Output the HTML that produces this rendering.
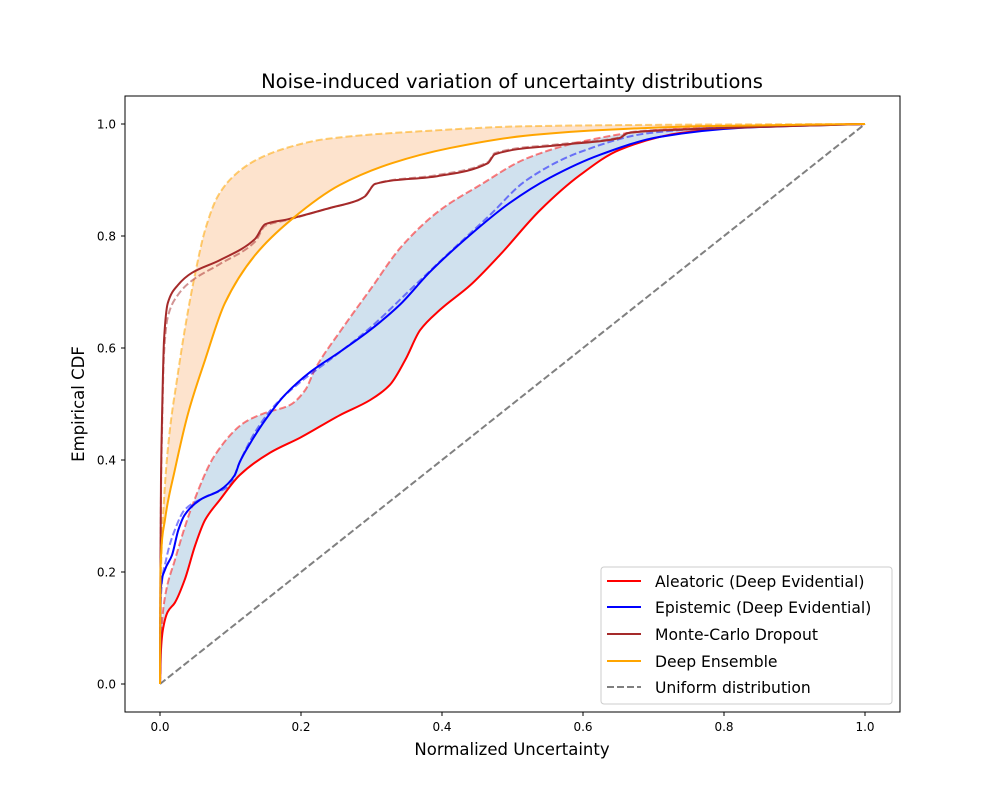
<!DOCTYPE html>
<html><head><meta charset="utf-8"><style>
body{margin:0;background:#fff}
svg text{font-family:"DejaVu Sans","Liberation Sans",sans-serif}
</style></head><body>
<svg id="chart" width="1000" height="800" viewBox="0 0 1000 800" xmlns="http://www.w3.org/2000/svg">
<rect width="1000" height="800" fill="#fff"/>
<text x="512" y="88" font-size="19.5" text-anchor="middle">Noise-induced variation of uncertainty distributions</text>
<g id="fills"></g><g id="lines"></g><g id="axes"></g>
<rect x="125" y="96" width="775" height="616" fill="none" stroke="#000" stroke-width="1"/>
<text x="512" y="755" font-size="16.5" text-anchor="middle">Normalized Uncertainty</text>
<text x="0" y="0" font-size="16.5" text-anchor="middle" transform="translate(84,404) rotate(-90)">Empirical CDF</text>
<g>
<rect x="601" y="567" width="291" height="137" rx="3" fill="#fff" fill-opacity="0.8" stroke="#ccc"/>
<line x1="607" y1="581" x2="641" y2="581" stroke="red" stroke-width="2"/>
<text x="655" y="587" font-size="15.6">Aleatoric (Deep Evidential)</text>
<line x1="607" y1="607" x2="641" y2="607" stroke="blue" stroke-width="2"/>
<text x="655" y="613" font-size="15.6">Epistemic (Deep Evidential)</text>
<line x1="607" y1="634" x2="641" y2="634" stroke="#a52a2a" stroke-width="2"/>
<text x="655" y="640" font-size="15.6">Monte-Carlo Dropout</text>
<line x1="607" y1="661" x2="641" y2="661" stroke="orange" stroke-width="2"/>
<text x="655" y="667" font-size="15.6">Deep Ensemble</text>
<line x1="607" y1="687" x2="641" y2="687" stroke="gray" stroke-width="2" stroke-dasharray="7,3"/>
<text x="655" y="693" font-size="15.6">Uniform distribution</text>
</g>
</svg>
<script>
const xTicks=[0,0.2,0.4,0.6,0.8,1.0];
const yTicks=[0,0.2,0.4,0.6,0.8,1.0];
const aleatoricX=[0,0.0014,0.004,0.011,0.021,0.035,0.05,0.064,0.085,0.113,0.156,0.199,0.255,0.298,0.326,0.348,0.369,0.397,0.44,0.482,0.539,0.596,0.652,0.738,0.851,1];
const aleatoricY=[0,0.061,0.096,0.129,0.145,0.186,0.248,0.293,0.329,0.373,0.413,0.44,0.48,0.507,0.534,0.579,0.632,0.668,0.712,0.766,0.846,0.909,0.954,0.984,0.996,1];
const aleatoricNoisyX=[0,0.0014,0.007,0.021,0.045,0.078,0.121,0.149,0.184,0.206,0.22,0.258,0.298,0.343,0.397,0.454,0.518,0.596,0.695,0.837,1];
const aleatoricNoisyY=[0,0.079,0.155,0.221,0.316,0.409,0.468,0.484,0.498,0.525,0.5625,0.634,0.704,0.782,0.846,0.891,0.9375,0.968,0.988,0.996,1];
const epistemicX=[0,0.001,0.007,0.017,0.026,0.035,0.057,0.085,0.106,0.113,0.128,0.149,0.177,0.213,0.255,0.298,0.34,0.383,0.44,0.496,0.553,0.624,0.709,0.823,1];
const epistemicY=[0,0.168,0.204,0.23,0.275,0.302,0.329,0.346,0.373,0.396,0.43,0.471,0.516,0.557,0.593,0.632,0.677,0.736,0.802,0.859,0.904,0.945,0.977,0.993,1];
const epistemicNoisyX=[0,0.001,0.0085,0.021,0.035,0.064,0.099,0.113,0.135,0.163,0.199,0.241,0.298,0.355,0.411,0.468,0.518,0.596,0.695,0.837,1];
const epistemicNoisyY=[0,0.15,0.221,0.275,0.311,0.334,0.355,0.396,0.45,0.498,0.539,0.579,0.636,0.704,0.771,0.8375,0.898,0.95,0.984,0.996,1];
const mcX=[0,0.0007,0.0014,0.003,0.0057,0.011,0.0255,0.045,0.085,0.135,0.149,0.182,0.241,0.281,0.291,0.305,0.394,0.465,0.475,0.567,0.652,0.664,0.766,1];
const mcY=[0,0.221,0.364,0.484,0.614,0.68,0.7125,0.734,0.757,0.795,0.821,0.83,0.85,0.864,0.871,0.893,0.907,0.93,0.946,0.9625,0.975,0.984,0.991,1];
const mcNoisyY=[0,0.2,0.34,0.46,0.59,0.655,0.695,0.72,0.75,0.79,0.818,0.829,0.85,0.864,0.872,0.893,0.909,0.932,0.948,0.964,0.976,0.985,0.992,1];
const ensX=[0,0.0007,0.007,0.021,0.04,0.064,0.092,0.135,0.187,0.255,0.329,0.411,0.518,0.624,0.766,1];
const ensY=[0,0.204,0.293,0.382,0.484,0.579,0.68,0.766,0.83,0.891,0.93,0.957,0.979,0.989,0.996,1];
const ensNoisyX=[0,0.0007,0.0057,0.014,0.024,0.035,0.05,0.064,0.082,0.106,0.139,0.184,0.234,0.376,0.518,0.766,1];
const ensNoisyY=[0,0.15,0.329,0.454,0.543,0.632,0.734,0.811,0.871,0.909,0.9375,0.959,0.973,0.9875,0.996,0.999,1];
const uniformX=[0,1];
const uniformY=[0,1];

const NS="http://www.w3.org/2000/svg";
function sx(v){return 160+v*705;}
function sy(v){return 684-v*560;}
// monotone cubic (Fritsch-Carlson) path in pixel space, parametrised by x
function segs(xs,ys){
  const X=xs.map(sx),Y=ys.map(sy),n=X.length;
  if(n<3){return [["M",X[0],Y[0]],["L",X[1],Y[1]]];}
  const d=[],m=[];
  for(let i=0;i<n-1;i++)d.push((Y[i+1]-Y[i])/(X[i+1]-X[i]));
  m[0]=d[0];m[n-1]=d[n-2];
  for(let i=1;i<n-1;i++){
    if(d[i-1]*d[i]<=0)m[i]=0;
    else{const h0=X[i]-X[i-1],h1=X[i+1]-X[i];const w1=2*h1+h0,w2=h1+2*h0;m[i]=(w1+w2)/(w1/d[i-1]+w2/d[i]);}
  }
  const out=[["M",X[0],Y[0]]];
  for(let i=0;i<n-1;i++){
    const h=(X[i+1]-X[i])/3;
    out.push(["C",X[i]+h,Y[i]+m[i]*h,X[i+1]-h,Y[i+1]-m[i+1]*h,X[i+1],Y[i+1]]);
  }
  return out;
}
function pathStr(s){return s.map(a=>a[0]+a.slice(1).map(v=>v.toFixed(2)).join(",")).join(" ");}
function revPath(xs,ys){
  const rx=xs.slice().reverse(),ry=ys.slice().reverse();
  const X=rx.map(sx),Y=ry.map(sy);
  // reuse forward control points reversed
  const f=segs(xs,ys);const out=[["L",X[0],Y[0]]];
  for(let i=f.length-1;i>=1;i--){
    const c=f[i],prev=f[i-1];const px=prev[prev.length-2],py=prev[prev.length-1];
    out.push(["C",c[3],c[4],c[1],c[2],px,py]);
  }
  return out;
}
function mk(tag,attrs,parent){const e=document.createElementNS(NS,tag);for(const k in attrs)e.setAttribute(k,attrs[k]);document.getElementById(parent).appendChild(e);return e;}

let f1=mk("path",{d:pathStr(segs(ensNoisyX,ensNoisyY).concat(revPath(ensX,ensY)))+" Z",fill:"#fde3cd"},"fills");


let f2=mk("path",{d:pathStr(segs(aleatoricNoisyX,aleatoricNoisyY).concat(revPath(aleatoricX,aleatoricY)))+" Z",fill:"#d0e1ee"},"fills");



function line(xs,ys,color,dash,op,name){
  const a={d:pathStr(segs(xs,ys)),fill:"none",stroke:color,"stroke-width":2,"stroke-opacity":op,"stroke-linejoin":"round"};
  if(dash)a["stroke-dasharray"]=dash;
  const e=mk("path",a,"lines");
  
  
}
line(uniformX,uniformY,"gray","7,3",1,"uniform-line");
line(ensNoisyX,ensNoisyY,"orange","7,3",0.55,"ensemble-noisy-line");
line(mcX,mcNoisyY,"#a52a2a","7,3",0.5,"mc-dropout-noisy-line");
line(aleatoricNoisyX,aleatoricNoisyY,"red","7,3",0.5,"aleatoric-noisy-line");
line(epistemicNoisyX,epistemicNoisyY,"blue","7,3",0.5,"epistemic-noisy-line");
line(aleatoricX,aleatoricY,"red",null,1,"aleatoric-line");
line(epistemicX,epistemicY,"blue",null,1,"epistemic-line");
line(mcX,mcY,"#a52a2a",null,1,"mc-dropout-line");
line(ensX,ensY,"orange",null,1,"ensemble-line");

xTicks.forEach(v=>{
  const t=mk("line",{x1:sx(v),x2:sx(v),y1:712,y2:716,stroke:"#000"},"axes");
  
  
  const l=mk("text",{x:sx(v),y:731,"font-size":12,"text-anchor":"middle"},"axes");
  l.textContent=v.toFixed(1);
  
  
});
yTicks.forEach(v=>{
  const t=mk("line",{x1:121,x2:125,y1:sy(v),y2:sy(v),stroke:"#000"},"axes");
  
  
  const l=mk("text",{x:116,y:sy(v)+4.5,"font-size":12,"text-anchor":"end"},"axes");
  l.textContent=v.toFixed(1);
  
  
});
</script>
</body></html>
